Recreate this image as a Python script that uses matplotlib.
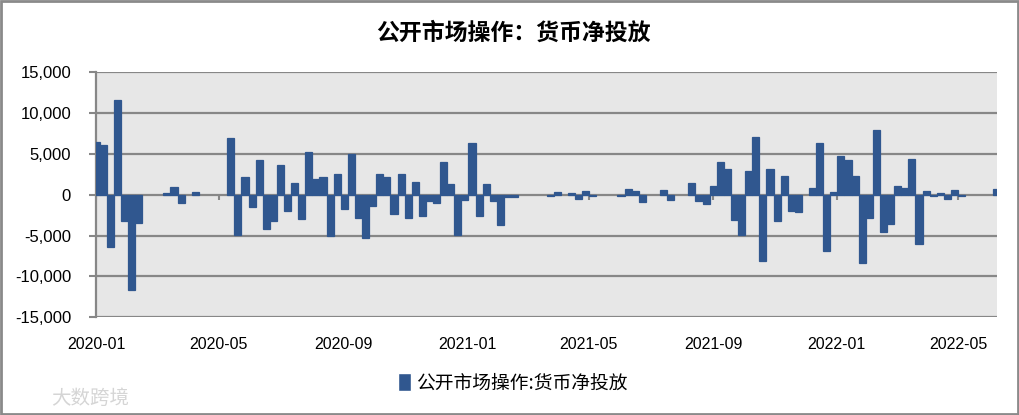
import numpy as np
import pandas as pd
import matplotlib
matplotlib.use("Agg")
import matplotlib.pyplot as plt
from matplotlib.patches import Patch, Rectangle
from matplotlib.ticker import FuncFormatter

plt.rcParams['font.family'] = ['Liberation Sans', 'Noto Sans CJK SC', 'DejaVu Sans']

title = "公开市场操作：货币净投放"
series_name = "公开市场操作:货币净投放"
start_date = "2020-01-01"
n_weeks = 128

# weekly net injection (亿元); NaN = no operation that week
values = [
    6500, 6100, -6400, 11600, -3200, -11700, -3400, np.nan, np.nan, np.nan,
    200, 900, -1000, np.nan, 300, np.nan, np.nan, np.nan, np.nan, 7000,
    -4900, 2200, -1500, 4200, -4200, -3200, 3600, -2000, 1400, -3000,
    5200, 1900, 2200, -5000, 2600, -1700, 5000, -2900, -5300, -1400,
    2500, 2200, -2300, 2600, -2900, 1600, -2600, -800, -1000, 4000,
    1300, -4900, -600, 6300, -2600, 1300, -800, -3700, -250, -300,
    np.nan, np.nan, np.nan, np.nan, -200, 300, np.nan, 200, -500, 500,
    -200, np.nan, np.nan, np.nan, -200, 700, 450, -900, np.nan, np.nan,
    550, -600, np.nan, np.nan, 1500, -700, -1100, 1100, 4000, 3100,
    -3100, -4900, 2900, 7100, -8100, 3100, -3200, 2300, -2000, -2100,
    np.nan, 800, 6300, -6900, 300, 4800, 4300, 2300, -8400, -2900,
    7900, -4600, -3600, 1100, 800, 4400, -6000, 450, -200, 250,
    -500, 550, -200, np.nan, np.nan, np.nan, np.nan, 700,
]
dates = pd.date_range(start_date, periods=n_weeks, freq="7D")

tick_dates = pd.to_datetime(["2020-01-01", "2020-05-01", "2020-09-01", "2021-01-01",
                             "2021-05-01", "2021-09-01", "2022-01-01", "2022-05-01"])
tick_labels = ["2020-01", "2020-05", "2020-09", "2021-01",
               "2021-05", "2021-09", "2022-01", "2022-05"]
y_ticks = [-15000, -10000, -5000, 0, 5000, 10000, 15000]

bar_color = "#30578F"
grid_color = "#878787"

fig = plt.figure(figsize=(10.19, 4.15), dpi=100)
fig.patch.set_facecolor("white")
ax = fig.add_axes([96/1019, 1-317.3/415, (997-96)/1019, (317.3-72.3)/415])
ax.set_facecolor("#E7E7E7")

ax.bar(dates, values, width=7, color=bar_color, edgecolor=bar_color,
       linewidth=0.9, zorder=3)

ax.set_ylim(-15000, 15000)
ax.set_xlim(dates[0], dates[-1])
ax.set_yticks(y_ticks)
ax.yaxis.set_major_formatter(FuncFormatter(lambda v, p: f"{int(v):,}"))
for yv in y_ticks:
    ax.axhline(yv, color=grid_color, lw=1.6, zorder=1)

# tick marks on the zero axis line
ax.vlines(tick_dates, -650, 0, color=grid_color, lw=1.5, zorder=2)

ax.set_xticks(tick_dates)
ax.set_xticklabels(tick_labels)
ax.tick_params(axis="x", length=0, pad=14, labelsize=11.5, colors="black")
ax.tick_params(axis="y", length=5, width=1.5, color=grid_color, pad=13,
               labelsize=12, labelcolor="black")

for s in ["top", "right", "bottom"]:
    ax.spines[s].set_visible(False)
ax.spines["left"].set_color(grid_color)
ax.spines["left"].set_linewidth(1.6)

fig.text(0.504, 1-33/415, title, ha="center", va="center", fontsize=16.5,
         fontweight="bold", family=["Noto Sans CJK SC", "DejaVu Sans"])

leg = fig.legend(handles=[Patch(facecolor=bar_color, edgecolor="white", label=series_name)],
                 loc="center", bbox_to_anchor=(0.503, 1-383/415), frameon=False,
                 handlelength=0.7, handleheight=1.1, handletextpad=0.25,
                 prop={"family": ["Noto Sans CJK SC", "DejaVu Sans"], "size": 13.5})

fig.text(0.05, 1-398/415, "大数跨境", ha="left", va="center", fontsize=14,
         color="#D5D5D5", family=["Noto Sans CJK SC", "DejaVu Sans"])

fig.patches.append(Rectangle((0.001, 0.002), 0.998, 0.996, transform=fig.transFigure,
                             fill=False, edgecolor="#8A8A8A", lw=2))

fig.savefig("out.png", dpi=100)
